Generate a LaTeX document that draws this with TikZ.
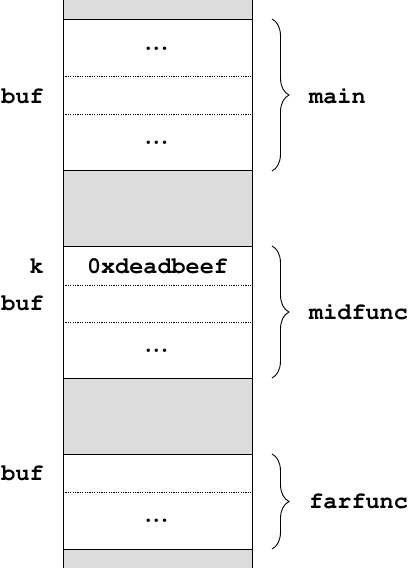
\documentclass[tikz,border=0pt]{standalone}
\usetikzlibrary{decorations.pathreplacing}
\definecolor{slotgray}{HTML}{DCDCDC}
\newcommand{\courierfont}[1]{\fontencoding{T1}\fontfamily{pcr}\fontseries{b}\fontsize{#1}{#1}\selectfont}
\newcommand{\celldots}{.\kern0.6pt.\kern0.6pt.}
\tikzset{
  x=1pt,y=-1pt,
  lbl/.style={font=\courierfont{23.5}, inner sep=0pt},
  dots/.style={font=\bfseries\fontsize{24}{24}\selectfont, inner sep=0pt},
  solidline/.style={line width=1pt},
  dotline/.style={line width=0.7pt, dash pattern=on 1.2pt off 1.2pt},
  gapfill/.style={fill=slotgray, draw=none},
  bracestyle/.style={decorate, decoration={brace, amplitude=17pt}, line width=0.9pt},
}
\begin{document}
\begin{tikzpicture}
\useasboundingbox (0,0) rectangle (409,568);
% gray gaps
\fill[gapfill] (63,0) rectangle (252,19);
\fill[gapfill] (63,170) rectangle (252,246);
\fill[gapfill] (63,378) rectangle (252,454);
\fill[gapfill] (63,549) rectangle (252,568);
% column sides
\draw[solidline] (63,0) -- (63,568);
\draw[solidline] (252,0) -- (252,568);
% main frame
\draw[solidline] (63,19) -- (252,19);
\draw[dotline] (63,76) -- (252,76);
\draw[dotline] (63,114) -- (252,114);
\draw[solidline] (63,170) -- (252,170);
% midfunc frame
\draw[solidline] (63,246) -- (252,246);
\draw[dotline] (63,285) -- (252,285);
\draw[dotline] (63,322) -- (252,322);
\draw[solidline] (63,378) -- (252,378);
% farfunc frame
\draw[solidline] (63,454) -- (252,454);
\draw[dotline] (63,492) -- (252,492);
\draw[solidline] (63,549) -- (252,549);
% cell contents
\node[dots, anchor=base] (m1) at (156.5,50.5) {\celldots};
\node[dots, anchor=base] (m3) at (156.5,144.5) {\celldots};
\node[lbl] (kval) at (157.5,266) {0xdeadbeef};
\node[dots, anchor=base] (d3) at (156.5,352.5) {\celldots};
\node[dots, anchor=base] (f2) at (156.5,522.5) {\celldots};
% left labels
\node[lbl, anchor=east] (bufmain) at (44,96) {buf};
\node[lbl, anchor=east] (kmid) at (44,266) {k};
\node[lbl, anchor=east] (bufmid) at (44,303) {buf};
\node[lbl, anchor=east] (buffar) at (44,473) {buf};
% braces
\coordinate (mt) at (272,19);
\coordinate (mb) at (272,171);
\coordinate (dt) at (272,246);
\coordinate (db) at (272,378);
\coordinate (ft) at (272,454);
\coordinate (fb) at (272,549);
\draw[bracestyle] (mt) -- (mb);
\draw[bracestyle] (dt) -- (db);
\draw[bracestyle] (ft) -- (fb);
% right labels
\node[lbl, anchor=west] (lmain) at (309,96) {main};
\node[lbl, anchor=west] (lmid) at (309,312) {midfunc};
\node[lbl, anchor=west] (lfar) at (309,501) {farfunc};
\end{tikzpicture}
\end{document}
